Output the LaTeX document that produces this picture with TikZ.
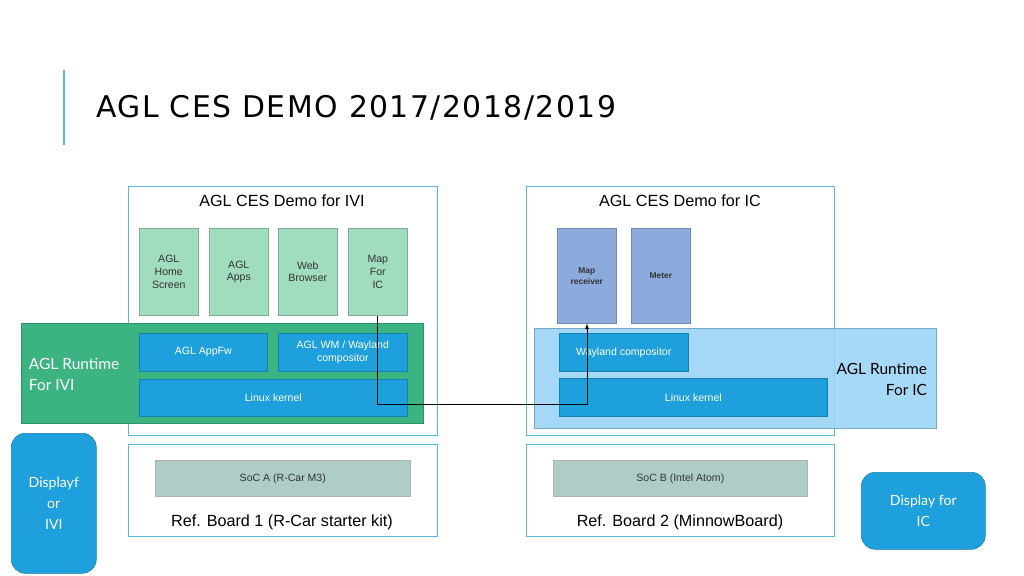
\documentclass[tikz,border=0pt]{standalone}
\usepackage{fontspec}
\setmainfont{Liberation Sans}
\newfontfamily\rt{Lato}
\newfontfamily\ttl{DejaVu Sans}
\newcommand\pxu{*0.7113pt}
\definecolor{appg}{RGB}{160,220,190}
\definecolor{rtg}{RGB}{60,180,130}
\definecolor{bl}{RGB}{30,160,220}
\definecolor{icb}{RGB}{150,210,245}
\definecolor{ica}{RGB}{140,170,220}
\definecolor{socc}{RGB}{175,205,200}
\definecolor{frm}{RGB}{90,185,220}
\begin{document}
\begin{tikzpicture}[x=0.025cm,y=-0.025cm,
 frame/.style={draw=frm,line width=0.8pt,fill=white},
 app/.style={draw=appg!80!black,fill=appg,text=black!80},
 blu/.style={draw=bl!80!black,fill=bl,text=white},
 ica/.style={draw=ica!80!black,fill=ica,text=black!80},
 soc/.style={draw=gray!60,fill=socc,text=black!80},
 disp/.style={draw=bl!80!black,fill=bl,rounded corners=10pt,text=white},
 sm/.style={font=\fontsize{7.5}{9}\selectfont,align=center,inner sep=1pt}]
\useasboundingbox (0,0) rectangle (1024,576);
\draw[frm,line width=1pt] (64,70) -- (64,145);
\node[anchor=west,inner sep=0] (title) at (96,108) {\resizebox{13cm}{!}{\ttl\addfontfeature{LetterSpace=5}\fontsize{30}{30}\selectfont AGL CES DEMO 2017/2018/2019}};
% frames
\node[frame,minimum width=309\pxu,minimum height=249\pxu,anchor=north west] (ivi) at (128,186) {};
\node[frame,minimum width=308\pxu,minimum height=249\pxu,anchor=north west] (ic) at (526,186) {};
\node[font=\fontsize{11.5}{13}\selectfont] (tivi) at (282,201) {AGL CES Demo for IVI};
\node[font=\fontsize{11.5}{13}\selectfont] (tic) at (680,201) {AGL CES Demo for IC};
% apps
\foreach \n/\x/\t in {a1/139/AGL\\Home\\Screen,a2/209/AGL\\Apps,a3/278/Web\\Browser,a4/348/Map\\For\\IC}
 \node[app,sm,minimum width=59\pxu,minimum height=87\pxu,anchor=north west] (\n) at (\x,228) {\t};
\node[ica,sm,font=\fontsize{6}{8}\selectfont\bfseries,minimum width=59\pxu,minimum height=95\pxu,anchor=north west] (mr) at (557,228) {Map\\receiver};
\node[ica,sm,font=\fontsize{6}{8}\selectfont\bfseries,minimum width=59\pxu,minimum height=95\pxu,anchor=north west] (me) at (631,228) {Meter};
% runtimes
\node[draw=rtg!80!black,fill=rtg,minimum width=402\pxu,minimum height=100\pxu,anchor=north west] (rivi) at (21,323) {};
\node[anchor=west,align=left,text=white,font=\rt\fontsize{11}{15}\selectfont] (lrivi) at (24,374) {AGL Runtime\\For IVI};
\node[draw=icb!80!black,fill=icb,fill opacity=0.85,minimum width=402\pxu,minimum height=100\pxu,anchor=north west] (ric) at (534,328) {};
\node[anchor=east,align=right,font=\rt\fontsize{11}{15}\selectfont] (lric) at (932,379) {AGL Runtime\\For IC};
\node[blu,sm,minimum width=128\pxu,minimum height=38\pxu,anchor=north west] (fw) at (139,333) {AGL AppFw};
\node[blu,sm,minimum width=129\pxu,minimum height=38\pxu,anchor=north west] (wm) at (278,333) {AGL WM / Wayland\\compositor};
\node[blu,sm,minimum width=268\pxu,minimum height=37\pxu,anchor=north west] (lk1) at (139,379) {Linux kernel};
\node[blu,sm,minimum width=129\pxu,minimum height=38\pxu,anchor=north west] (wc) at (559,333) {Wayland compositor};
\node[blu,sm,minimum width=268\pxu,minimum height=38\pxu,anchor=north west] (lk2) at (559,378) {Linux kernel};
\coordinate (c1) at (377,404);
\coordinate (c2) at (587,404);
\draw[-latex] (a4.south -| c1) -- (c1) -- (c2) -- (mr.south -| c2);
% boards
\node[frame,minimum width=309\pxu,minimum height=92\pxu,anchor=north west] (b1) at (128,444) {};
\node[frame,minimum width=308\pxu,minimum height=92\pxu,anchor=north west] (b2) at (526,444) {};
\node[soc,sm,minimum width=255\pxu,minimum height=36\pxu,anchor=north west] (sa) at (155,460) {SoC A (R-Car M3)};
\node[soc,sm,minimum width=254\pxu,minimum height=36\pxu,anchor=north west] (sb) at (553,460) {SoC B (Intel Atom)};
\node[font=\fontsize{11.5}{13}\selectfont] (lb1) at (282,522) {Ref. Board 1 (R-Car starter kit)};
\node[font=\fontsize{11.5}{13}\selectfont] (lb2) at (680,522) {Ref. Board 2 (MinnowBoard)};
\node[disp,align=center,font=\rt\fontsize{10}{15}\selectfont,minimum width=85\pxu,minimum height=140\pxu,anchor=north west] (d1) at (11,433) {Displayf\\or\\IVI};
\node[disp,align=center,font=\rt\fontsize{10}{15}\selectfont,minimum width=124\pxu,minimum height=77\pxu,anchor=north west] (d2) at (861,472) {Display for\\IC};
\end{tikzpicture}
\end{document}
